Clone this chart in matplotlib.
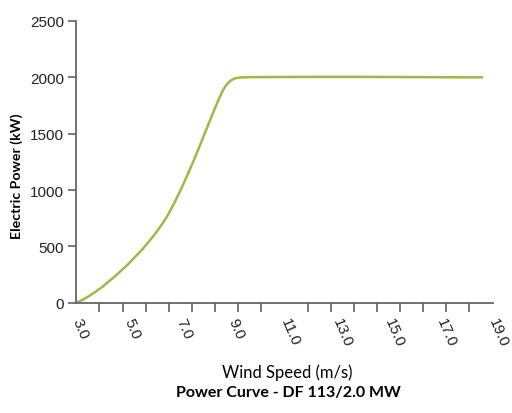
import numpy as np
import matplotlib
matplotlib.use("Agg")
import matplotlib.pyplot as plt

wind_speed = [3.0, 3.25, 3.5, 3.75, 4.0, 4.5, 5.0, 5.5, 5.75, 6.0, 6.25, 6.5, 6.75, 7.0, 7.25,
              7.5, 7.75, 8.0, 8.25, 8.5, 8.65, 8.8, 8.95, 9.1, 9.3, 9.6, 10.0, 11.0, 12.0,
              13.0, 14.0, 15.0, 16.0, 17.0, 18.0, 18.6]
power_kw = [0, 28, 62, 100, 142, 238, 345, 465, 532, 603, 682, 770, 878, 995, 1122,
            1255, 1395, 1538, 1682, 1818, 1892, 1943, 1974, 1991, 1999, 2001, 2002, 2003, 2004,
            2004, 2004, 2003, 2002, 2001, 2000, 2000]

x_labels = ["3.0", "5.0", "7.0", "9.0", "11.0", "13.0", "15.0", "17.0", "19.0"]
x_label_pos = [3, 5, 7, 9, 11, 13, 15, 17, 19]
y_ticks = [0, 500, 1000, 1500, 2000, 2500]

fig = plt.figure(figsize=(5.12, 4.14), dpi=100)
ax = fig.add_axes([0.149, 0.266, 0.813, 0.681])

ax.plot(wind_speed, power_kw, color="#9BBB44", lw=1.8, solid_joinstyle="round",
        solid_capstyle="round")
ax.set_xlim(3, 19)
ax.set_ylim(0, 2500)

ax.set_yticks(y_ticks)
ax.set_yticklabels([str(v) for v in y_ticks], fontsize=11, family="Liberation Sans", color="#222222")
ax.set_xticks(x_label_pos)
ax.set_xticklabels(x_labels, fontsize=11, family="Liberation Sans", color="#222222",
                   rotation=-67, ha="left", va="center", rotation_mode="anchor")
ax.set_xticks(np.linspace(3, 19, 19), minor=True)
ax.tick_params(axis="x", which="major", length=0, pad=11)
ax.tick_params(axis="x", which="minor", length=6.5, width=1.1, color="#555555", direction="out")
ax.tick_params(axis="y", length=6, width=1.1, color="#555555", pad=3)

for s in ["top", "right"]:
    ax.spines[s].set_visible(False)
for s in ["left", "bottom"]:
    ax.spines[s].set_color("#666666")
    ax.spines[s].set_linewidth(1.3)

fig.text(0.032, 0.574, "Electric Power (kW)", rotation=90, ha="center", va="center",
         fontsize=10.2, fontweight="bold", family="Lato")
fig.text(0.561, 0.10, "Wind Speed (m/s)", ha="center", va="center", fontsize=12, family="Lato")
fig.text(0.563, 0.05, "Power Curve - DF 113/2.0 MW", ha="center", va="center",
         fontsize=11.5, fontweight="bold", family="Lato")

fig.savefig("out.png", dpi=100)
